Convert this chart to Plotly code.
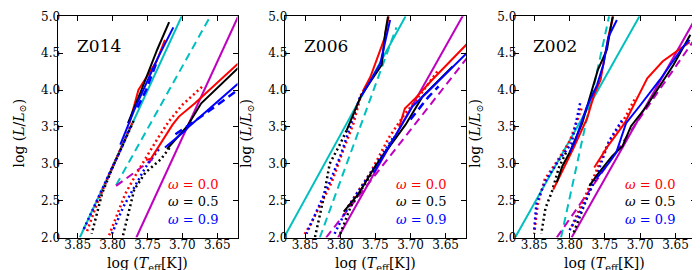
import plotly.graph_objects as go

# ---------------- data (log Teff, log L) ----------------
PANEL_NAMES = ["Z014", "Z006", "Z002"]
X_TICKS = [3.85, 3.80, 3.75, 3.70, 3.65]
X_TICK_LABELS = ["3.85", "3.80", "3.75", "3.70", "3.65"]
Y_TICKS = [2.0, 2.5, 3.0, 3.5, 4.0, 4.5, 5.0]
Y_TICK_LABELS = ["2.0", "2.5", "3.0", "3.5", "4.0", "4.5", "5.0"]
OMEGA_LABELS = ["0.0", "0.5", "0.9"]

# Z014
Z014_CYAN_SOLID = [(3.847, 2.0), (3.701, 5.0)]
Z014_CYAN_DASH = [(3.795, 2.71), (3.660, 5.0)]
Z014_MAG_SOLID = [(3.766, 2.0), (3.620, 5.0)]
Z014_MAG_DASH = [(3.795, 2.70), (3.743, 3.06)]
Z014_RED_SOLID_A = [(3.725, 4.68), (3.737, 4.39), (3.763, 4.0), (3.770, 3.76), (3.776, 3.55)]
Z014_BLACK_SOLID_A = [(3.719, 4.92), (3.736, 4.55), (3.760, 3.97), (3.778, 3.55)]
Z014_BLUE_SOLID_A = [(3.713, 4.85), (3.736, 4.42), (3.768, 3.75), (3.789, 3.26)]
Z014_BLUE_DASH_A = [(3.738, 4.35), (3.752, 4.0), (3.765, 3.75)]
Z014_RED_SOLID_B = [(3.752, 3.05), (3.745, 3.07), (3.714, 3.53), (3.705, 3.64), (3.682, 3.82), (3.620, 4.36)]
Z014_BLACK_SOLID_B = [(3.722, 3.20), (3.705, 3.38), (3.693, 3.51), (3.673, 3.82), (3.620, 4.30)]
Z014_BLUE_SOLID_B = [(3.725, 3.22), (3.697, 3.44), (3.690, 3.51), (3.620, 4.09)]
Z014_BLUE_DASH_B = [(3.710, 3.40), (3.670, 3.66), (3.622, 3.99)]
Z014_RED_DOT_A = [(3.772, 3.55), (3.790, 3.18), (3.805, 2.85), (3.822, 2.47), (3.838, 2.05)]
Z014_BLACK_DOT_A = [(3.770, 3.58), (3.784, 3.28), (3.800, 2.95), (3.815, 2.60), (3.830, 2.05)]
Z014_BLUE_DOT_A = [(3.775, 3.50), (3.786, 3.24), (3.803, 2.90), (3.825, 2.45), (3.843, 2.08)]
Z014_RED_DOT_B = [(3.805, 2.03), (3.782, 2.59), (3.765, 2.88), (3.749, 3.13), (3.735, 3.35),
                  (3.719, 3.58), (3.700, 3.80), (3.671, 4.05)]
Z014_BLACK_DOT_B = [(3.785, 2.03), (3.769, 2.65), (3.753, 2.88), (3.731, 3.06), (3.718, 3.22)]
Z014_BLUE_DOT_B = [(3.801, 2.05), (3.785, 2.41), (3.753, 2.95), (3.732, 3.22)]

# Z006
Z006_CYAN_SOLID = [(3.880, 2.0), (3.707, 5.0)]
Z006_CYAN_DASH = [(3.829, 2.0), (3.720, 4.85)]
Z006_MAG_SOLID = [(3.803, 2.0), (3.620, 5.1)]
Z006_MAG_DASH = [(3.820, 2.0), (3.620, 4.43)]
Z006_RED_SOLID_A = [(3.731, 5.0), (3.737, 4.70), (3.757, 4.18), (3.768, 3.98)]
Z006_BLACK_SOLID_A = [(3.732, 5.0), (3.736, 4.77), (3.741, 4.34), (3.757, 4.12), (3.770, 3.93), (3.791, 3.45)]
Z006_BLUE_SOLID_A = [(3.729, 4.95), (3.738, 4.55), (3.743, 4.36), (3.759, 4.09), (3.770, 3.92)]
Z006_RED_SOLID_B = [(3.716, 3.50), (3.708, 3.75), (3.693, 3.89), (3.669, 4.14), (3.620, 4.62)]
Z006_BLACK_SOLID_B = [(3.795, 2.35), (3.774, 2.59), (3.750, 2.97), (3.707, 3.53), (3.683, 3.91), (3.640, 4.32)]
Z006_BLUE_SOLID_B = [(3.752, 2.88), (3.714, 3.50), (3.697, 3.78), (3.673, 4.0), (3.620, 4.50)]
Z006_BLUE_DASH_B = [(3.700, 3.60), (3.675, 3.90), (3.660, 4.05)]
Z006_RED_DOT_A = [(3.770, 3.95), (3.781, 3.55), (3.797, 3.15), (3.812, 2.75), (3.841, 2.20), (3.852, 2.02)]
Z006_BLACK_DOT_A = [(3.791, 3.45), (3.800, 3.27), (3.815, 3.0), (3.824, 2.52), (3.836, 2.0)]
Z006_BLUE_DOT_A = [(3.772, 3.9), (3.786, 3.5), (3.800, 3.1), (3.815, 2.75), (3.838, 2.25), (3.848, 2.05)]
Z006_RED_DOT_B = [(3.795, 2.30), (3.788, 2.43), (3.757, 2.88), (3.731, 3.35), (3.710, 3.65),
                  (3.685, 3.95), (3.662, 4.25)]
Z006_BLACK_DOT_B = [(3.800, 2.05), (3.785, 2.42), (3.760, 2.80), (3.740, 3.10), (3.720, 3.40)]
Z006_BLUE_DOT_B = [(3.808, 2.05), (3.790, 2.40), (3.755, 2.90), (3.725, 3.35)]

# Z002
Z002_CYAN_SOLID = [(3.877, 2.0), (3.701, 5.0)]
Z002_CYAN_DASH = [(3.812, 2.0), (3.744, 5.0)]
Z002_MAG_SOLID = [(3.797, 2.0), (3.620, 5.0)]
Z002_MAG_DASH = [(3.818, 2.0), (3.620, 4.73)]
Z002_RED_SOLID_A = [(3.738, 5.0), (3.744, 4.77), (3.751, 4.41), (3.756, 4.14), (3.765, 3.94),
                    (3.775, 3.62), (3.795, 3.2), (3.823, 2.65)]
Z002_BLACK_SOLID_A = [(3.739, 5.0), (3.747, 4.55), (3.760, 4.27), (3.772, 3.87), (3.782, 3.55),
                      (3.800, 3.15), (3.810, 2.97), (3.818, 2.75)]
Z002_BLUE_SOLID_A = [(3.733, 4.95), (3.745, 4.72), (3.752, 4.35), (3.761, 4.07), (3.776, 3.76),
                     (3.792, 3.31), (3.800, 3.15)]
Z002_RED_SOLID_B = [(3.765, 2.95), (3.745, 3.25), (3.722, 3.55), (3.710, 3.78), (3.690, 4.16),
                    (3.668, 4.39), (3.649, 4.52), (3.630, 4.65)]
Z002_BLACK_SOLID_B = [(3.772, 2.70), (3.760, 2.86), (3.740, 3.10), (3.725, 3.24), (3.713, 3.51),
                      (3.691, 3.78), (3.653, 4.34), (3.629, 4.75)]
Z002_BLUE_SOLID_B = [(3.762, 2.80), (3.745, 3.00), (3.734, 3.15), (3.720, 3.55), (3.701, 3.78),
                     (3.672, 4.14), (3.639, 4.59), (3.630, 4.68)]
Z002_RED_DOT_A = [(3.783, 3.75), (3.800, 3.30), (3.820, 3.0), (3.835, 2.79), (3.845, 2.45), (3.850, 2.05)]
Z002_BLACK_DOT_A = [(3.805, 3.15), (3.815, 2.95), (3.825, 2.62), (3.834, 2.40), (3.840, 2.05)]
Z002_BLUE_DOT_A = [(3.785, 3.82), (3.797, 3.28), (3.815, 3.05), (3.835, 2.75), (3.847, 2.45), (3.850, 2.1)]
Z002_RED_DOT_B = [(3.797, 2.15), (3.782, 2.47), (3.763, 2.88), (3.751, 3.17), (3.739, 3.37),
                  (3.720, 3.65), (3.706, 3.91)]
Z002_BLACK_DOT_B = [(3.794, 2.07), (3.779, 2.43), (3.767, 2.74)]
Z002_BLUE_DOT_B = [(3.800, 2.10), (3.789, 2.27), (3.765, 2.75), (3.744, 3.31), (3.725, 3.60)]

# ---------------- styling ----------------
W, H = 700, 270
PANEL_PX = [(49.5, 229.5), (276.7, 458.0), (505.7, 688.0)]
TOP_PX, BOT_PX = 8.3, 229.5
X_RANGE = [3.879, 3.621]
Y_RANGE = [2.0, 5.0]


def fx(px):
    return px / W


def fy(py):
    return 1 - py / H


RED, BLACK, BLUE = "#ff0000", "#000000", "#0000ff"
CYAN, MAGENTA = "#00bfbf", "#bf00bf"
SERIF = "DejaVu Serif"

DASH = "8px,5px"
DOT = "2px,3px"

panels = [
    [  # Z014
        (Z014_CYAN_SOLID, CYAN, "solid", 2), (Z014_CYAN_DASH, CYAN, DASH, 2),
        (Z014_MAG_SOLID, MAGENTA, "solid", 2), (Z014_MAG_DASH, MAGENTA, DASH, 2),
        (Z014_RED_DOT_A, RED, DOT, 2.5), (Z014_BLACK_DOT_A, BLACK, DOT, 2.5), (Z014_BLUE_DOT_A, BLUE, DOT, 2.5),
        (Z014_RED_DOT_B, RED, DOT, 2.5), (Z014_BLACK_DOT_B, BLACK, DOT, 2.5), (Z014_BLUE_DOT_B, BLUE, DOT, 2.5),
        (Z014_RED_SOLID_A, RED, "solid", 2), (Z014_BLACK_SOLID_A, BLACK, "solid", 2),
        (Z014_BLUE_SOLID_A, BLUE, "solid", 2), (Z014_BLUE_DASH_A, BLUE, DASH, 2.5),
        (Z014_RED_SOLID_B, RED, "solid", 2), (Z014_BLACK_SOLID_B, BLACK, "solid", 2),
        (Z014_BLUE_SOLID_B, BLUE, "solid", 2), (Z014_BLUE_DASH_B, BLUE, DASH, 2.5),
    ],
    [  # Z006
        (Z006_CYAN_SOLID, CYAN, "solid", 2), (Z006_CYAN_DASH, CYAN, DASH, 2),
        (Z006_MAG_SOLID, MAGENTA, "solid", 2), (Z006_MAG_DASH, MAGENTA, DASH, 2),
        (Z006_RED_DOT_A, RED, DOT, 2.5), (Z006_BLACK_DOT_A, BLACK, DOT, 2.5), (Z006_BLUE_DOT_A, BLUE, DOT, 2.5),
        (Z006_RED_DOT_B, RED, DOT, 2.5), (Z006_BLACK_DOT_B, BLACK, DOT, 2.5), (Z006_BLUE_DOT_B, BLUE, DOT, 2.5),
        (Z006_RED_SOLID_A, RED, "solid", 2), (Z006_BLACK_SOLID_A, BLACK, "solid", 2),
        (Z006_BLUE_SOLID_A, BLUE, "solid", 2),
        (Z006_RED_SOLID_B, RED, "solid", 2), (Z006_BLACK_SOLID_B, BLACK, "solid", 2),
        (Z006_BLUE_SOLID_B, BLUE, "solid", 2), (Z006_BLUE_DASH_B, BLUE, DASH, 2.5),
    ],
    [  # Z002
        (Z002_CYAN_SOLID, CYAN, "solid", 2), (Z002_CYAN_DASH, CYAN, DASH, 2),
        (Z002_MAG_SOLID, MAGENTA, "solid", 2), (Z002_MAG_DASH, MAGENTA, DASH, 2),
        (Z002_RED_DOT_A, RED, DOT, 2.5), (Z002_BLACK_DOT_A, BLACK, DOT, 2.5), (Z002_BLUE_DOT_A, BLUE, DOT, 2.5),
        (Z002_RED_DOT_B, RED, DOT, 2.5), (Z002_BLACK_DOT_B, BLACK, DOT, 2.5), (Z002_BLUE_DOT_B, BLUE, DOT, 2.5),
        (Z002_RED_SOLID_A, RED, "solid", 2), (Z002_BLACK_SOLID_A, BLACK, "solid", 2),
        (Z002_BLUE_SOLID_A, BLUE, "solid", 2),
        (Z002_RED_SOLID_B, RED, "solid", 2), (Z002_BLACK_SOLID_B, BLACK, "solid", 2),
        (Z002_BLUE_SOLID_B, BLUE, "solid", 2),
    ],
]

fig = go.Figure()
annotations = []
layout_axes = {}
ydom = [fy(BOT_PX), fy(TOP_PX)]

for i, (series, name) in enumerate(zip(panels, PANEL_NAMES)):
    sfx = "" if i == 0 else str(i + 1)
    xref, yref = "x" + sfx, "y" + sfx
    for pts, color, dash, width in series:
        fig.add_trace(go.Scatter(
            x=[p[0] for p in pts], y=[p[1] for p in pts], mode="lines",
            line=dict(color=color, dash=dash, width=width),
            xaxis=xref, yaxis=yref, showlegend=False, hoverinfo="skip"))
    l, r = PANEL_PX[i]
    common = dict(showline=True, linecolor="black", linewidth=1, mirror="ticks",
                  ticks="inside", ticklen=5, tickcolor="black", showgrid=False,
                  zeroline=False, automargin=False,
                  tickfont=dict(family=SERIF, size=12, color="black"))
    layout_axes["xaxis" + sfx] = dict(domain=[fx(l), fx(r)], range=X_RANGE, anchor=yref,
                                      tickvals=X_TICKS, ticktext=X_TICK_LABELS,
                                      ticklabelstandoff=-4, **common)
    layout_axes["yaxis" + sfx] = dict(domain=ydom, range=Y_RANGE, anchor=xref,
                                      tickvals=Y_TICKS, ticktext=Y_TICK_LABELS,
                                      ticklabelstandoff=-6, **common)
    # panel label
    annotations.append(dict(x=fx(l + 17.5), y=fy(38), xref="paper", yref="paper",
                            text=name, showarrow=False, xanchor="left", yanchor="middle",
                            font=dict(family=SERIF, size=17, color="black")))
    # omega labels
    for j, (lab, col) in enumerate(zip(OMEGA_LABELS, [RED, BLACK, BLUE])):
        annotations.append(dict(x=fx(l + 163), y=fy(176 + 17.5 * j), xref="paper",
                                yref="paper", text="<i>ω</i> = " + lab, showarrow=False,
                                xanchor="right", yanchor="middle",
                                font=dict(family=SERIF, size=13, color=col)))
    # axis titles
    annotations.append(dict(x=fx((l + r) / 2), y=fy(256), xref="paper", yref="paper",
                            text="log (<i>T</i><sub>eff</sub>[K])", showarrow=False,
                            xanchor="center", yanchor="middle",
                            font=dict(family=SERIF, size=14, color="black")))
    annotations.append(dict(x=fx(l - 38), y=fy(125), xref="paper", yref="paper",
                            text="log (<i>L</i>/<i>L</i><sub>⊙</sub>)", showarrow=False,
                            textangle=-90, xanchor="center", yanchor="middle",
                            font=dict(family=SERIF, size=14, color="black")))

fig.update_layout(template="none", width=W, height=H, margin=dict(l=0, r=0, t=0, b=0),
                  paper_bgcolor="white", plot_bgcolor="white",
                  font=dict(family=SERIF),
                  annotations=annotations, **layout_axes)
fig.write_html("out.html")
